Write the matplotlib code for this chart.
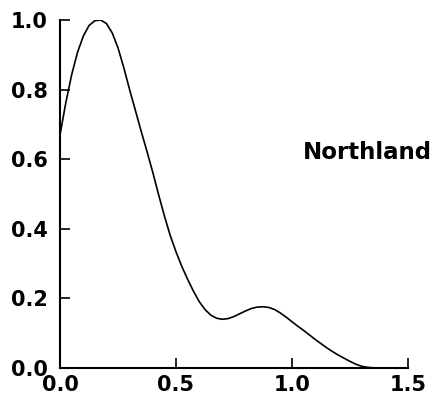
import matplotlib
matplotlib.use("Agg")
import matplotlib.pyplot as plt

x_vals = [0.00, 0.025, 0.05, 0.075, 0.10, 0.125, 0.15, 0.175, 0.20, 0.225,
          0.25, 0.275, 0.30, 0.325, 0.35, 0.375, 0.40, 0.425, 0.45, 0.475,
          0.50, 0.525, 0.55, 0.575, 0.60, 0.625, 0.65, 0.675, 0.70, 0.725,
          0.75, 0.775, 0.80, 0.825, 0.85, 0.875, 0.90, 0.925, 0.95, 0.975,
          1.00, 1.025, 1.05, 1.075, 1.10, 1.125, 1.15, 1.175, 1.20, 1.225,
          1.25, 1.275, 1.30, 1.325, 1.35, 1.375, 1.40]
y_vals = [0.670, 0.762, 0.842, 0.906, 0.953, 0.984, 0.998, 1.000, 0.990, 0.963,
          0.920, 0.863, 0.800, 0.740, 0.680, 0.622, 0.562, 0.498, 0.437, 0.381,
          0.334, 0.292, 0.255, 0.221, 0.191, 0.168, 0.152, 0.143, 0.140, 0.142,
          0.148, 0.156, 0.164, 0.171, 0.175, 0.176, 0.174, 0.168, 0.158, 0.146,
          0.133, 0.120, 0.108, 0.095, 0.082, 0.070, 0.058, 0.047, 0.037, 0.028,
          0.019, 0.011, 0.005, 0.002, 0.0005, 0.0, 0.0]

x_ticks = [0.0, 0.5, 1.0, 1.5]
x_labels = ["0.0", "0.5", "1.0", "1.5"]
y_ticks = [0.0, 0.2, 0.4, 0.6, 0.8, 1.0]
y_labels = ["0.0", "0.2", "0.4", "0.6", "0.8", "1.0"]
label_text = "Northland"

plt.rcParams['font.family'] = ['DejaVu Sans']

fig = plt.figure(figsize=(4.45, 4.05), dpi=100)
ax = fig.add_axes([60/445, 37/405, 348/445, 348/405])

ax.plot(x_vals, y_vals, color='black', lw=1.2,
        solid_joinstyle='round', solid_capstyle='round')

ax.set_xlim(0, 1.5)
ax.set_ylim(0, 1.0)
ax.spines['top'].set_visible(False)
ax.spines['right'].set_visible(False)
ax.spines['left'].set_linewidth(1.5)
ax.spines['bottom'].set_linewidth(1.5)
ax.set_xticks(x_ticks)
ax.set_xticklabels(x_labels)
ax.set_yticks(y_ticks)
ax.set_yticklabels(y_labels)
ax.tick_params(direction='in', length=7, width=1.2, labelsize=15)
ax.tick_params(axis='x', pad=5)
ax.tick_params(axis='y', pad=9)
for lab in ax.get_xticklabels() + ax.get_yticklabels():
    lab.set_fontweight('bold')

ax.text(1.045, 0.62, label_text, fontsize=16.5, fontweight='bold',
        ha='left', va='center', transform=ax.transData)

fig.savefig("out.png", dpi=100)
